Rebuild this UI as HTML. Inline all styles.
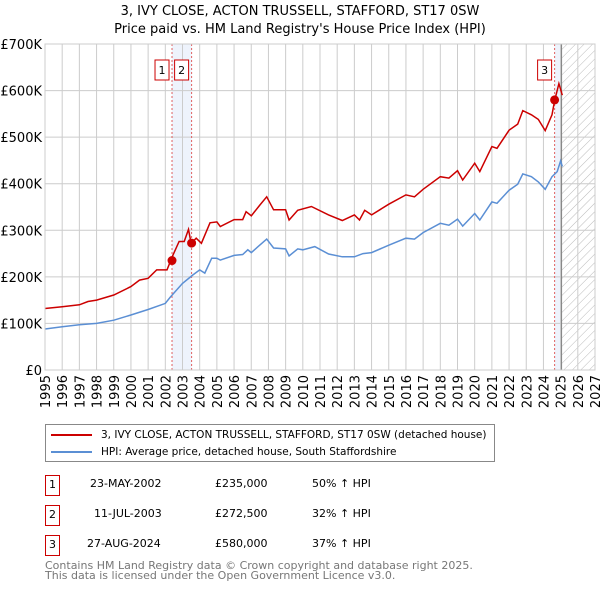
<!DOCTYPE html>
<html><head><meta charset="utf-8"><style>
body{margin:0;background:#fff;font-family:"DejaVu Sans","Liberation Sans",sans-serif;}
#wrap{position:relative;width:600px;height:590px;overflow:hidden}
svg text{font-family:"DejaVu Sans","Liberation Sans",sans-serif}
.tb div{white-space:nowrap}
</style></head><body><div id="wrap">
<svg id="chart" width="600" height="590"></svg>
</div>
<script>
const hpiYears=[1995,1996,1997,1998,1999,2000,2001,2002,2002.3,2003,2003.6,2004,2004.3,2004.7,2005,2005.2,2006,2006.5,2006.8,2007,2007.4,2007.9,2008.3,2009,2009.2,2009.7,2010,2010.7,2011.5,2012.3,2013,2013.5,2014,2015,2016,2016.5,2017,2018,2018.5,2019,2019.3,2020,2020.3,2021,2021.3,2022,2022.5,2022.8,2023.3,2023.7,2024.1,2024.5,2024.8,2025.0,2025.1];
const hpiValues=[88,93,97,100,107,118,130,143,157,186,204,215,208,240,240,236,246,248,258,252,265,281,262,260,245,260,258,265,249,243,243,250,252,268,283,281,295,315,311,324,309,336,322,361,358,386,399,421,415,404,388,415,426,449,437];
const redYears=[1995,1996,1997,1997.5,1998,1999,2000,2000.5,2001,2001.5,2002.1,2002.4,2002.8,2003.1,2003.35,2003.5,2003.8,2004.1,2004.6,2005,2005.2,2006,2006.5,2006.7,2007,2007.5,2007.9,2008.3,2009,2009.2,2009.7,2010.5,2011.5,2012.3,2013,2013.3,2013.6,2014,2015,2016,2016.5,2017,2018,2018.5,2019,2019.3,2020,2020.3,2021,2021.3,2022,2022.5,2022.8,2023.3,2023.7,2024.1,2024.5,2024.65,2024.9,2025.1];
const redValues=[132,136,140,147,150,161,179,193,197,215,215,243,276,276,302,272,283,272,316,318,308,323,323,340,331,354,372,344,344,322,343,351,333,321,333,322,343,333,356,376,372,388,415,412,428,408,444,426,480,476,515,528,557,548,538,514,548,578,615,590];
const saleYears=[2002.39,2003.53,2024.65];
const saleValues=[235,272.5,580];
const saleLabels=["1","2","3"];
const yTicks=[0,100,200,300,400,500,600,700];
const yTickLabels=["£0","£100K","£200K","£300K","£400K","£500K","£600K","£700K"];
const xTicks=[1995,1996,1997,1998,1999,2000,2001,2002,2003,2004,2005,2006,2007,2008,2009,2010,2011,2012,2013,2014,2015,2016,2017,2018,2019,2020,2021,2022,2023,2024,2025,2026,2027];

const X0=45,X1=595,Y0=370,Y1=44;
const xs=y=>X0+(y-1995)/(2027-1995)*(X1-X0);
const ys=v=>Y0-v/700*(Y0-Y1);
const NS="http://www.w3.org/2000/svg";
const svg=document.getElementById('chart');
function mk(t,a,parent){const e=document.createElementNS(NS,t);for(const k in a)e.setAttribute(k,a[k]);(parent||svg).appendChild(e);return e;}

let t=mk('text',{x:300,y:15,'text-anchor':'middle','font-size':13,fill:'#000'});t.textContent="3, IVY CLOSE, ACTON TRUSSELL, STAFFORD, ST17 0SW";

t=mk('text',{x:300,y:33,'text-anchor':'middle','font-size':13,fill:'#000'});t.textContent="Price paid vs. HM Land Registry's House Price Index (HPI)";


const defs=mk('defs',{});
const pat=mk('pattern',{id:'hatch',width:6,height:6,patternUnits:'userSpaceOnUse',patternTransform:'rotate(45)'},defs);
mk('line',{x1:0,y1:0,x2:0,y2:6,stroke:'#bbb','stroke-width':1},pat);

let b=mk('rect',{x:xs(saleYears[0]),y:Y1,width:xs(saleYears[1])-xs(saleYears[0]),height:Y0-Y1,fill:'#eef3fc'});

b=mk('rect',{x:xs(saleYears[2]),y:Y1,width:xs(2025.05)-xs(saleYears[2]),height:Y0-Y1,fill:'#eef3fc'});

b=mk('rect',{x:xs(2025.05),y:Y1,width:X1-xs(2025.05),height:Y0-Y1,fill:'url(#hatch)'});


yTicks.forEach((v,i)=>{
 const l=mk('line',{x1:X0,x2:X1,y1:ys(v),y2:ys(v),stroke:'#ccc','stroke-width':1});
 
 const tx=mk('text',{x:X0-3,y:ys(v)+5,'text-anchor':'end','font-size':13,fill:'#000'});tx.textContent=yTickLabels[i];
 
});
xTicks.forEach(y=>{
 const l=mk('line',{x1:xs(y),x2:xs(y),y1:Y1,y2:Y0,stroke:'#ccc','stroke-width':1});
 
 const tx=mk('text',{x:0,y:0,'text-anchor':'end','font-size':13,fill:'#000',transform:`translate(${xs(y)+5},${Y0+5}) rotate(-90)`});tx.textContent=y;
 
});
let ln=mk('line',{x1:xs(2025.05),x2:xs(2025.05),y1:Y1,y2:Y0,stroke:'#888','stroke-width':1.2});


saleYears.forEach(y=>{
 const l=mk('line',{x1:xs(y),x2:xs(y),y1:Y1,y2:Y0,stroke:'#e06060','stroke-width':1,'stroke-dasharray':'2,2'});
 
});

function path(xa,va){return xa.map((y,i)=>(i?'L':'M')+xs(y).toFixed(1)+','+ys(va[i]).toFixed(1)).join('');}
let p=mk('path',{d:path(hpiYears,hpiValues),fill:'none',stroke:'#5b8fd4','stroke-width':1.5});

p=mk('path',{d:path(redYears,redValues),fill:'none',stroke:'#cc0000','stroke-width':1.5});


saleYears.forEach((y,i)=>{
 const c=mk('circle',{cx:xs(y),cy:ys(saleValues[i]),r:4.5,fill:'#cc0000'});
 
 const g=mk('g',{});
 
 mk('rect',{x:xs(y)-17,y:60,width:14,height:20,fill:'#fff',stroke:'#cc0000','stroke-width':1},g);
 const tx=mk('text',{x:xs(y)-10,y:74,'text-anchor':'middle','font-size':11,fill:'#000'},g);tx.textContent=saleLabels[i];
});
let br=mk('rect',{x:X0,y:Y1,width:X1-X0,height:Y0-Y1,fill:'none',stroke:'#ccc'});

</script>
<div style="position:absolute;left:45px;top:424px;width:448px;height:36px;border:1px solid #888;font-size:10.5px;">
 <div style="position:absolute;left:5px;top:4px;white-space:nowrap"><span style="display:inline-block;width:41px;height:2px;background:#cc0000;vertical-align:middle;margin-right:9px"></span>3, IVY CLOSE, ACTON TRUSSELL, STAFFORD, ST17 0SW (detached house)</div>
 <div style="position:absolute;left:5px;top:21px;white-space:nowrap"><span style="display:inline-block;width:41px;height:2px;background:#5b8fd4;vertical-align:middle;margin-right:9px"></span>HPI: Average price, detached house, South Staffordshire</div>
</div>
<div class="tb" style="position:absolute;left:0;top:0;width:600px;font-size:11px;">
 <div>
  <div style="position:absolute;left:45px;top:475px;width:13px;height:19px;border:1px solid #cc0000;text-align:center;line-height:17px">1</div>
  <div style="position:absolute;left:90px;top:477px">23-MAY-2002</div>
  <div style="position:absolute;left:215px;top:477px">£235,000</div>
  <div style="position:absolute;left:312px;top:477px">50% ↑ HPI</div>
 </div>
 <div>
  <div style="position:absolute;left:45px;top:505px;width:13px;height:19px;border:1px solid #cc0000;text-align:center;line-height:17px">2</div>
  <div style="position:absolute;left:94px;top:507px">11-JUL-2003</div>
  <div style="position:absolute;left:215px;top:507px">£272,500</div>
  <div style="position:absolute;left:312px;top:507px">32% ↑ HPI</div>
 </div>
 <div>
  <div style="position:absolute;left:45px;top:535px;width:13px;height:19px;border:1px solid #cc0000;text-align:center;line-height:17px">3</div>
  <div style="position:absolute;left:87px;top:537px">27-AUG-2024</div>
  <div style="position:absolute;left:215px;top:537px">£580,000</div>
  <div style="position:absolute;left:312px;top:537px">37% ↑ HPI</div>
 </div>
</div>
<div style="position:absolute;left:45px;top:561px;font-size:11px;color:#777;line-height:10px;white-space:nowrap">Contains HM Land Registry data © Crown copyright and database right 2025.<br>This data is licensed under the Open Government Licence v3.0.</div>
</body></html>
